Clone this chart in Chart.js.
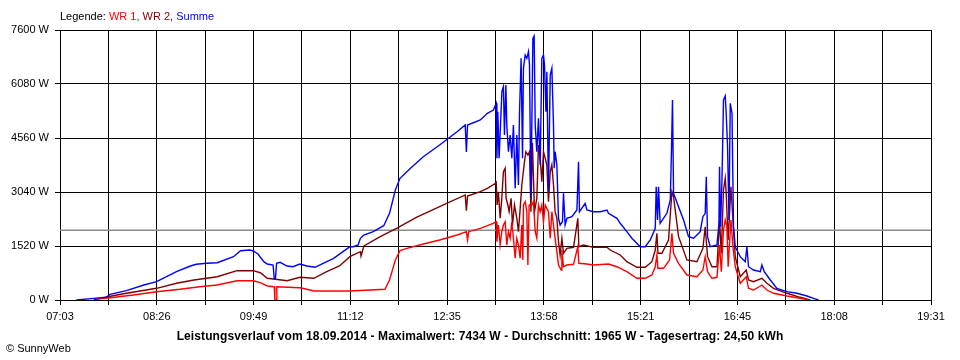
<!DOCTYPE html>
<html>
<head>
<meta charset="utf-8">
<script src="https://cdn.jsdelivr.net/npm/chart.js@4/dist/chart.umd.min.js"></script>
<style>
html,body{margin:0;padding:0;background:#fff;}
#wrap{position:relative;width:960px;height:360px;overflow:hidden;font-family:"Liberation Sans",Arial,sans-serif;color:#000;}
canvas{position:absolute;left:0;top:0;}
#legend{position:absolute;left:60px;top:11px;font-size:11px;line-height:11px;white-space:nowrap;}
#title{position:absolute;left:0;width:960px;text-align:center;top:330px;font-size:12px;line-height:12px;font-weight:bold;white-space:nowrap;letter-spacing:0.1px;}
#copy{position:absolute;left:6px;top:343px;font-size:11px;line-height:11px;white-space:nowrap;}
</style>
</head>
<body>
<div id="wrap">
<canvas id="c" width="960" height="360"></canvas>
<div id="legend">Legende: <span style="color:#ff0000">WR 1,</span> <span style="color:#800000">WR 2,</span> <span style="color:#0000ff">Summe</span></div>
<div id="title">Leistungsverlauf vom 18.09.2014 - Maximalwert: 7434 W - Durchschnitt: 1965 W - Tagesertrag: 24,50 kWh</div>
<div id="copy">© SunnyWeb</div>
</div>
<script>
// x tick labels (every second grid line is labelled)
const xTickLabels = ['07:03','08:26','09:49','11:12','12:35','13:58','15:21','16:45','18:08','19:31'];
// y ticks in W
const yTicks = [0,1520,3040,4560,6080,7600];
// daily average in W
const avgWatts = 1965;

// Summe (minutes after midnight / W)
const sumTimes = [437,452,463,466,480,495,506,523,535,540,549,558,572,578,586,589,593,598,601,606,607,608,609,612,618,623,629,635,642,649,658,666,672,675,679,681,684,692,701,706,711,715,724,735,749,764,771,772,773,784,790,795.2,797.6,
798.2,799.0,800.1,802.5,803.8,804.7,805.9,806.7,808.1,809.6,811.0,812.4,813.9,815.3,816.7,817.6,819.0,820.2,821.0,822.5,823.9,825.3,826.2,827.4,828.2,829.1,830.2,831.1,832.5,833.9,835.4,836.8,838.2,839.1,840.3,841.1,842.5,844.0,845.4,846.8,847.4,848.2,849.7,851.1,852.5,854.5,855.4,856.8,858.3,862.6,866.9,868.3,869.1,874.0,875.5,881.1,886.9,892.7,894.0,901.3,904.1,909.8,914.1,921.3,925.6,929.9,934.2,935.0,936.2,937.0,938.4,944.2,947.1,948.2,949.0,949.9,954.2,958.5,962.8,967.1,972.8,975.1,977.1,978.0,979.1,981.4,987.2,988.9,989.4,990.3,991.5,992.8,994.3,995.1,996.3,997.5,998.6,1000.1,1001.4,1002.9,1007.2,1011.5,1012.9,1014.3,1018.6,1024.4,1025.8,1027.8,1033.0,1038.7,1047.3,1055.9,1064.5,1070.1,1074.4];
const sumWatts = [0,45,80,160,262,422,515,797,957,1005,1033,1050,1219,1388,1407,1379,1295,1078,1013,985,600,600,1033,1061,957,937,1013,957,920,1033,1174,1360,1500,1500,1548,1737,1830,1923,2091,2440,3096,3426,3707,4034,4363,4737,4926,4170,4926,5067,5255,5348,5537,
3989,5300,3989,5863,6004,4644,6052,4926,4174,4644,3989,4926,3144,4644,3237,5255,6803,3989,6522,6896,6803,6989,6615,2863,4926,7366,7434,4926,4174,5114,3800,6803,6896,6615,5300,6425,3049,6333,6522,4926,3707,4174,3800,2300,2111,2204,3003,2111,2300,2345,2533,3893,2486,2722,2533,2486,2486,2533,2440,2300,2159,1923,1737,1500,1500,1689,2018,3189,2252,3189,2159,2440,2815,4315,5630,3003,2626,2252,1782,1737,1923,2345,2440,3471,1782,1500,1548,2159,3752,2063,3378,5630,5742,5255,4315,2252,5537,5255,2063,1500,1219,1078,1500,937,844,797,985,797,563,329,234,189,113,48,0];

// WR 1
const wr1Times = [454,466,486,506,526,543,558,575,589,595,601,607,607.5,608.8,609.2,629,635,641,672,702,706,711,715,721,735,749,764,772,773,774,784,795,797.6,
798.2,799.5,801.0,802.4,803.8,805.3,806.7,808.1,809.6,811.0,812.4,813.9,815.3,816.7,818.2,819.6,820.5,821.0,822.5,823.9,824.8,825.9,828.2,829.6,831.1,832.5,833.9,835.4,836.8,838.2,839.7,842.5,844.0,845.4,846.8,848.2,849.7,851.1,853.4,854.0,855.4,858.3,864.0,867.7,868.6,875.5,881.1,894.0,901.3,909.8,918.4,925.6,931.3,934.2,935.6,936.5,941.3,946.5,948.5,949.9,954.2,961.4,970.0,975.1,977.1,979.1,982.9,987.2,989.4,990.9,992.8,994.3,995.7,996.8,999.2,1000.9,1002.9,1007.2,1012.3,1014.3,1018.6,1025.8,1030.1,1035.8,1047.3,1058.7,1065.8];
const wr1Watts = [28,65,141,234,301,374,422,543,543,487,394,374,0,0,374,346,301,253,253,301,563,1126,1388,1455,1576,1689,1830,1923,1689,1923,2018,2159,2204,
1641,2111,1548,1923,2111,2204,1548,1923,1737,2204,1737,1174,1737,1548,1174,2111,1126,2674,2767,2486,985,2674,2674,2767,1923,1737,2674,2486,2674,2204,2674,2486,1737,2486,2111,1737,1360,985,844,1407,937,985,1005,1500,1033,1013,985,1013,937,797,611,611,704,937,1267,892,892,1126,1877,1314,1033,704,656,844,1219,797,611,639,1548,797,1970,2252,2063,937,2252,1500,937,470,656,329,281,422,281,189,113,48,0];

// WR 2
const wr2Times = [452,464,480,506,523,538,549,558,575,589,595,601,608,618,629,641,652,663,672,675,681,681.5,684,698,712,729,749,771,772,773,784,790,797,797.6,
798.4,799.5,801.0,802.4,803.8,805.3,806.1,807.6,808.7,810.4,811.6,813.3,815.3,816.7,818.2,819.6,821.9,823.1,824.8,826.2,827.4,828.7,830.5,832.5,833.9,835.4,836.8,838.2,839.7,841.1,842.5,844.0,845.4,846.8,848.2,849.7,851.1,852.5,854.0,855.4,858.3,864.0,867.7,868.6,872.6,881.1,892.7,895.5,904.1,909.8,918.4,925.6,931.3,934.2,935.6,936.5,939.9,945.6,948.5,949.9,954.2,961.4,970.0,975.1,977.1,979.1,982.9,987.2,989.4,990.9,992.8,994.3,995.1,996.8,999.2,1000.9,1002.9,1007.2,1012.3,1014.3,1018.6,1025.8,1030.1,1035.8,1047.3,1058.7,1067.3];
const wr2Watts = [0,93,189,329,470,563,611,656,825,825,768,611,583,543,639,611,797,957,1219,1267,1360,1238,1520,1782,2018,2328,2626,2956,2514,2927,3048,3144,3285,3313,
2674,3048,2300,2863,3611,3707,2863,2674,2486,2863,2111,2674,2300,1923,2581,3237,3893,4174,4081,4174,2486,4428,2486,2863,4363,3989,3330,4174,3989,3800,2767,3611,3800,3237,2486,2300,1641,1267,1737,1314,1455,1483,2300,1500,1548,1483,1483,1407,1267,1078,920,920,1078,1407,1880,1314,1314,1689,3049,2908,1782,1126,1078,1455,2063,1219,937,937,2252,1314,3096,3426,3003,1689,3189,2252,1219,656,844,563,515,611,470,329,189,76,0];

function toMin(s){const p=s.split(':');return (+p[0])*60+(+p[1]);}
const xMin = toMin(xTickLabels[0]);
const xMax = toMin(xTickLabels[xTickLabels.length-1]);
const toXY = (ts, vs) => ts.map((t,i)=>({x:t,y:vs[i]}));

const FONT = '"Liberation Sans", Arial, sans-serif';

new Chart(document.getElementById('c').getContext('2d'), {
  type: 'line',
  data: {
    datasets: [
      {label:'Summe', data: toXY(sumTimes,sumWatts), borderColor:'#0000ff', order:0},
      {label:'WR 1', data: toXY(wr1Times,wr1Watts), borderColor:'#ff0000', order:1},
      {label:'WR 2', data: toXY(wr2Times,wr2Watts), borderColor:'#800000', order:2},
      {label:'Durchschnitt', data: [{x:xMin,y:avgWatts},{x:xMax,y:avgWatts}], borderColor:'#8c8c8c', borderWidth:1.5, order:3}
    ]
  },
  options: {
    responsive: false,
    animation: false,
    events: [],
    layout: {padding: {left:0, top:30, right:29, bottom:0}},
    elements: {point:{radius:0}, line:{borderWidth:1.4, tension:0, fill:false}},
    plugins: {legend:{display:false}, title:{display:false}, tooltip:{enabled:false}},
    scales: {
      x: {
        type:'linear', min:xMin, max:xMax,
        afterBuildTicks: s => { s.ticks = Array.from({length:(xTickLabels.length-1)*2+1}, (_,i)=>({value: xMin + i*(xMax-xMin)/((xTickLabels.length-1)*2)})); },
        afterFit: s => { s.height = 60; },
        ticks: {autoSkip:false, maxRotation:0, minRotation:0, padding:5, color:'#000', font:{family:FONT, size:11},
                callback: (v,i) => (i%2===0 ? xTickLabels[i/2] : '')},
        grid: {color:'#000', lineWidth:1, tickLength:5, drawTicks:true},
        border: {color:'#000', width:1}
      },
      y: {
        min:0, max:yTicks[yTicks.length-1],
        afterBuildTicks: s => { s.ticks = yTicks.map(v=>({value:v})); },
        afterFit: s => { s.width = 60; },
        ticks: {padding:6, color:'#000', font:{family:FONT, size:11}, callback: v => v + ' W'},
        grid: {color:'#000', lineWidth:1, tickLength:5, drawTicks:true},
        border: {color:'#000', width:1}
      }
    }
  }
});
</script>
</body>
</html>
